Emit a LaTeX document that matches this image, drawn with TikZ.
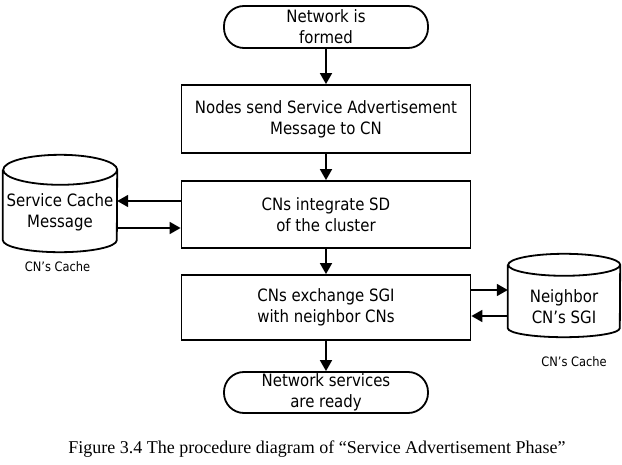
\documentclass[tikz,border=0pt]{standalone}
\usepackage{fontspec}
\setmainfont{DejaVu Sans}[FakeStretch=0.88]
\newfontfamily\capfont{Liberation Serif}
\usetikzlibrary{arrows.meta}
\begin{document}
\begin{tikzpicture}[x=1pt,y=-1pt,
  every node/.style={font=\fontsize{17}{21}\selectfont, align=center, inner sep=0pt},
  procbox/.style={draw, line width=1.8pt, minimum width=289pt, minimum height=67pt},
  termbox/.style={draw, line width=1.8pt, rounded corners=20pt, minimum width=204pt, minimum height=42pt},
  arr/.style={line width=1.8pt, -{Triangle[length=11pt,width=12pt]}},
  cyl/.style={line width=1.8pt},
  lbl/.style={font=\fontsize{13}{15}\selectfont}
]
\useasboundingbox (0,0) rectangle (622,465);

% flow nodes
\node[termbox] (t1) at (326,27) {Network is\\formed};
\node[procbox, minimum height=68pt] (b1) at (326,119) {Nodes send Service Advertisement\\Message to CN};
\node[procbox] (b2) at (326,214.5) {CNs integrate SD\\of the cluster};
\node[procbox, minimum height=65pt] (b3) at (326,307.5) {CNs exchange SGI\\with neighbor CNs};
\node[termbox, minimum height=41pt] (t2) at (326,392.5) {Network services\\are ready};

% left cylinder
\node[minimum width=114pt, minimum height=70pt] (cylL) at (60,205) {};
\draw[cyl] (cylL.north west) -- (cylL.south west)
  arc[start angle=180, end angle=0, x radius=57, y radius=12]
  -- (cylL.north east)
  arc[start angle=0, end angle=-180, x radius=57, y radius=15]
  arc[start angle=180, end angle=0, x radius=57, y radius=15];
\node (txtL) at (60,212) {Service Cache\\Message};
\node[lbl] (labL) at (57.5,267) {CN's Cache};

% right cylinder
\node[minimum width=112pt, minimum height=63pt] (cylR) at (564,296.5) {};
\draw[cyl] (cylR.north west) -- (cylR.south west)
  arc[start angle=180, end angle=0, x radius=56, y radius=9]
  -- (cylR.north east)
  arc[start angle=0, end angle=-180, x radius=56, y radius=11]
  arc[start angle=180, end angle=0, x radius=56, y radius=11];
\node (txtR) at (564,307) {Neighbor\\CN's SGI};
\node[lbl] (labR) at (574,362) {CN's Cache};

% vertical connectors
\draw[arr] (t1) -- (b1);
\draw[arr] (b1) -- (b2);
\draw[arr] (b2) -- (b3);
\draw[arr] (b3) -- (t2);

% side connectors
\draw[arr] (b2.west |- 0,201) -- (cylL.east |- 0,201);
\draw[arr] (cylL.east |- 0,228) -- (b2.west |- 0,228);
\draw[arr] (b3.east |- 0,290) -- (cylR.west |- 0,290);
\draw[arr] (cylR.west |- 0,316) -- (b3.east |- 0,316);

% caption
\node[font=\capfont\fontsize{18}{22}\selectfont] (cap) at (317,449) {Figure 3.4 The procedure diagram of “Service Advertisement Phase”};
\end{tikzpicture}
\end{document}
